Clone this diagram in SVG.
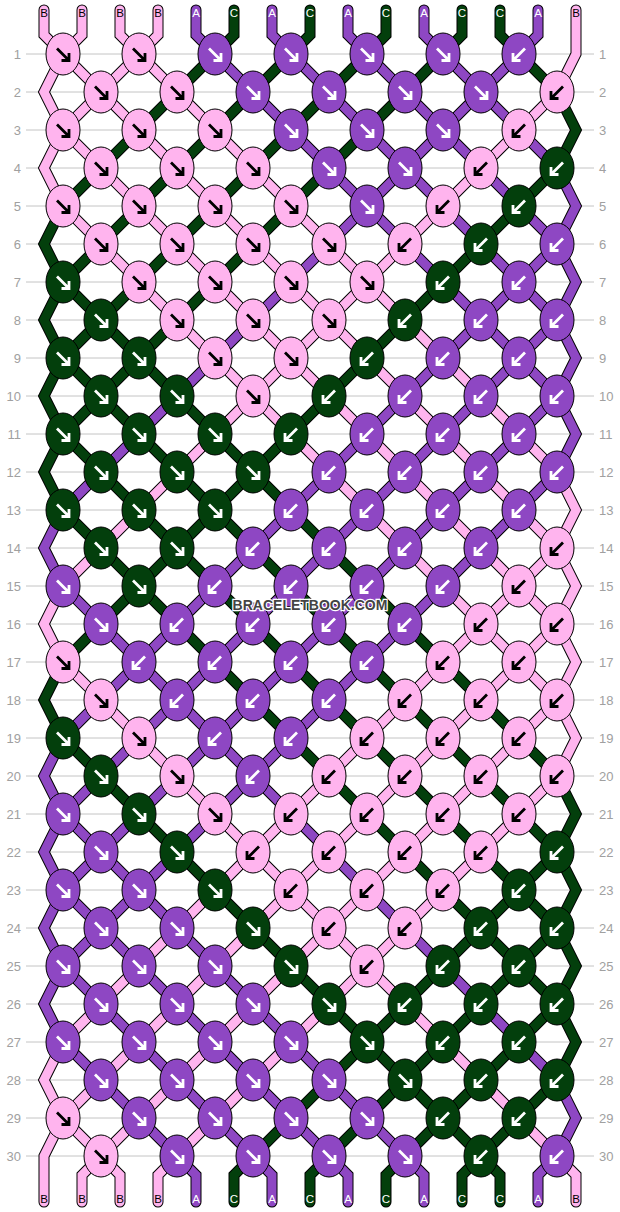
<svg xmlns="http://www.w3.org/2000/svg" xmlns:xlink="http://www.w3.org/1999/xlink" width="620" height="1212" viewBox="0 0 620 1212">
<style>
.grid line{stroke:#c4c4c4;stroke-width:1}
.num{font-family:"Liberation Sans",Arial,sans-serif;font-size:13px;fill:#a0a0a0}
.str use{fill:none;stroke-linejoin:miter;stroke-linecap:round}
.str .o use{stroke:#000;stroke-width:11}
.str .c use{stroke-width:9}
.str .c .A{stroke:#8e47c3}.str .c .B{stroke:#ffb4ee}.str .c .C{stroke:#033f0c}
.lbl{font-family:"Liberation Sans",Arial,sans-serif;font-size:11.5px;text-anchor:middle}
.lbl .A,.lbl .C{fill:#fff}.lbl .B{fill:#000}
.k ellipse{stroke:#000;stroke-width:1}
.k .A ellipse{fill:#8e47c3}.k .B ellipse{fill:#ffb4ee}.k .C ellipse{fill:#033f0c}
.k use{fill:none;stroke-width:2.8;stroke-linejoin:miter}
.k .A use,.k .C use{stroke:#fff}.k .B use{stroke:#000}
.wm{font-family:"Liberation Sans",Arial,sans-serif;font-size:14px;font-weight:bold;fill:#444;stroke:#fff;stroke-width:2.5;paint-order:stroke;text-anchor:middle}
</style>
<defs>
<path id="se" d="M-6,-5.5 L4.5,5 M6,-1 V6.5 H-1.5"/>
<path id="sw" d="M6,-5.5 L-4.5,5 M-6,-1 V6.5 H1.5"/>
<path id="p1" d="M44,10 L44,35 L63,54 L557,548 L576,586 L557,624 L63,1118 L44,1156 L44,1175 L44,1202"/>
<path id="p2" d="M82,10 L82,35 L63,54 L44,92 L63,130 L557,624 L576,662 L557,700 L101,1156 L82,1175 L82,1202"/>
<path id="p3" d="M120,10 L120,35 L139,54 L557,472 L576,510 L557,548 L63,1042 L44,1080 L63,1118 L101,1156 L120,1175 L120,1202"/>
<path id="p4" d="M158,10 L158,35 L139,54 L63,130 L44,168 L63,206 L557,700 L576,738 L557,776 L177,1156 L158,1175 L158,1202"/>
<path id="p5" d="M196,10 L196,35 L215,54 L557,396 L576,434 L557,472 L63,966 L44,1004 L63,1042 L177,1156 L196,1175 L196,1202"/>
<path id="p6" d="M234,10 L234,35 L215,54 L63,206 L44,244 L63,282 L557,776 L576,814 L557,852 L253,1156 L234,1175 L234,1202"/>
<path id="p7" d="M272,10 L272,35 L291,54 L557,320 L576,358 L557,396 L63,890 L44,928 L63,966 L253,1156 L272,1175 L272,1202"/>
<path id="p8" d="M310,10 L310,35 L291,54 L63,282 L44,320 L63,358 L557,852 L576,890 L557,928 L329,1156 L310,1175 L310,1202"/>
<path id="p9" d="M348,10 L348,35 L367,54 L557,244 L576,282 L557,320 L63,814 L44,852 L63,890 L329,1156 L348,1175 L348,1202"/>
<path id="p10" d="M386,10 L386,35 L367,54 L63,358 L44,396 L63,434 L557,928 L576,966 L557,1004 L405,1156 L386,1175 L386,1202"/>
<path id="p11" d="M424,10 L424,35 L443,54 L557,168 L576,206 L557,244 L63,738 L44,776 L63,814 L405,1156 L424,1175 L424,1202"/>
<path id="p12" d="M462,10 L462,35 L443,54 L63,434 L44,472 L63,510 L557,1004 L576,1042 L557,1080 L481,1156 L462,1175 L462,1202"/>
<path id="p13" d="M500,10 L500,35 L519,54 L557,92 L576,130 L557,168 L63,662 L44,700 L63,738 L481,1156 L500,1175 L500,1202"/>
<path id="p14" d="M538,10 L538,35 L519,54 L63,510 L44,548 L63,586 L557,1080 L576,1118 L557,1156 L538,1175 L538,1202"/>
<path id="p15" d="M576,10 L576,54 L557,92 L63,586 L44,624 L63,662 L557,1156 L576,1175 L576,1202"/>
</defs>
<rect width="620" height="1212" fill="#fff"/>
<g class="grid">
<line x1="26" y1="54" x2="594" y2="54"/><line x1="26" y1="92" x2="594" y2="92"/><line x1="26" y1="130" x2="594" y2="130"/><line x1="26" y1="168" x2="594" y2="168"/><line x1="26" y1="206" x2="594" y2="206"/><line x1="26" y1="244" x2="594" y2="244"/><line x1="26" y1="282" x2="594" y2="282"/><line x1="26" y1="320" x2="594" y2="320"/><line x1="26" y1="358" x2="594" y2="358"/><line x1="26" y1="396" x2="594" y2="396"/><line x1="26" y1="434" x2="594" y2="434"/><line x1="26" y1="472" x2="594" y2="472"/><line x1="26" y1="510" x2="594" y2="510"/><line x1="26" y1="548" x2="594" y2="548"/><line x1="26" y1="586" x2="594" y2="586"/><line x1="26" y1="624" x2="594" y2="624"/><line x1="26" y1="662" x2="594" y2="662"/><line x1="26" y1="700" x2="594" y2="700"/><line x1="26" y1="738" x2="594" y2="738"/><line x1="26" y1="776" x2="594" y2="776"/><line x1="26" y1="814" x2="594" y2="814"/><line x1="26" y1="852" x2="594" y2="852"/><line x1="26" y1="890" x2="594" y2="890"/><line x1="26" y1="928" x2="594" y2="928"/><line x1="26" y1="966" x2="594" y2="966"/><line x1="26" y1="1004" x2="594" y2="1004"/><line x1="26" y1="1042" x2="594" y2="1042"/><line x1="26" y1="1080" x2="594" y2="1080"/><line x1="26" y1="1118" x2="594" y2="1118"/><line x1="26" y1="1156" x2="594" y2="1156"/>
</g>
<g class="num" text-anchor="end">
<text x="21" y="59">1</text><text x="21" y="97">2</text><text x="21" y="135">3</text><text x="21" y="173">4</text><text x="21" y="211">5</text><text x="21" y="249">6</text><text x="21" y="287">7</text><text x="21" y="325">8</text><text x="21" y="363">9</text><text x="21" y="401">10</text><text x="21" y="439">11</text><text x="21" y="477">12</text><text x="21" y="515">13</text><text x="21" y="553">14</text><text x="21" y="591">15</text><text x="21" y="629">16</text><text x="21" y="667">17</text><text x="21" y="705">18</text><text x="21" y="743">19</text><text x="21" y="781">20</text><text x="21" y="819">21</text><text x="21" y="857">22</text><text x="21" y="895">23</text><text x="21" y="933">24</text><text x="21" y="971">25</text><text x="21" y="1009">26</text><text x="21" y="1047">27</text><text x="21" y="1085">28</text><text x="21" y="1123">29</text><text x="21" y="1161">30</text>
</g>
<g class="num" text-anchor="start">
<text x="599" y="59">1</text><text x="599" y="97">2</text><text x="599" y="135">3</text><text x="599" y="173">4</text><text x="599" y="211">5</text><text x="599" y="249">6</text><text x="599" y="287">7</text><text x="599" y="325">8</text><text x="599" y="363">9</text><text x="599" y="401">10</text><text x="599" y="439">11</text><text x="599" y="477">12</text><text x="599" y="515">13</text><text x="599" y="553">14</text><text x="599" y="591">15</text><text x="599" y="629">16</text><text x="599" y="667">17</text><text x="599" y="705">18</text><text x="599" y="743">19</text><text x="599" y="781">20</text><text x="599" y="819">21</text><text x="599" y="857">22</text><text x="599" y="895">23</text><text x="599" y="933">24</text><text x="599" y="971">25</text><text x="599" y="1009">26</text><text x="599" y="1047">27</text><text x="599" y="1085">28</text><text x="599" y="1123">29</text><text x="599" y="1161">30</text>
</g>
<g id="connectors" class="str">
<g class="o">
<use href="#p1"/><use href="#p2"/><use href="#p3"/><use href="#p4"/><use href="#p5"/><use href="#p6"/><use href="#p7"/><use href="#p8"/><use href="#p9"/><use href="#p10"/><use href="#p11"/><use href="#p12"/><use href="#p13"/><use href="#p14"/><use href="#p15"/>
</g>
<g class="c">
<use href="#p1" class="B"/><use href="#p2" class="B"/><use href="#p3" class="B"/><use href="#p4" class="B"/><use href="#p5" class="A"/><use href="#p6" class="C"/><use href="#p7" class="A"/><use href="#p8" class="C"/><use href="#p9" class="A"/><use href="#p10" class="C"/><use href="#p11" class="A"/><use href="#p12" class="C"/><use href="#p13" class="C"/><use href="#p14" class="A"/><use href="#p15" class="B"/>
</g>
</g>
<g class="lbl">
<text x="44" y="17" class="B">B</text><text x="82" y="17" class="B">B</text><text x="120" y="17" class="B">B</text><text x="158" y="17" class="B">B</text><text x="196" y="17" class="A">A</text><text x="234" y="17" class="C">C</text><text x="272" y="17" class="A">A</text><text x="310" y="17" class="C">C</text><text x="348" y="17" class="A">A</text><text x="386" y="17" class="C">C</text><text x="424" y="17" class="A">A</text><text x="462" y="17" class="C">C</text><text x="500" y="17" class="C">C</text><text x="538" y="17" class="A">A</text><text x="576" y="17" class="B">B</text>
<text x="44" y="1203" class="B">B</text><text x="82" y="1203" class="B">B</text><text x="120" y="1203" class="B">B</text><text x="158" y="1203" class="B">B</text><text x="196" y="1203" class="A">A</text><text x="234" y="1203" class="C">C</text><text x="272" y="1203" class="A">A</text><text x="310" y="1203" class="C">C</text><text x="348" y="1203" class="A">A</text><text x="386" y="1203" class="C">C</text><text x="424" y="1203" class="A">A</text><text x="462" y="1203" class="C">C</text><text x="500" y="1203" class="C">C</text><text x="538" y="1203" class="A">A</text><text x="576" y="1203" class="B">B</text>
</g>
<g class="k">
<g id="k1-1" class="B" transform="translate(63,54)"><ellipse rx="17" ry="21"/><use href="#se"/></g>
<g id="k1-2" class="B" transform="translate(139,54)"><ellipse rx="17" ry="21"/><use href="#se"/></g>
<g id="k1-3" class="A" transform="translate(215,54)"><ellipse rx="17" ry="21"/><use href="#se"/></g>
<g id="k1-4" class="A" transform="translate(291,54)"><ellipse rx="17" ry="21"/><use href="#se"/></g>
<g id="k1-5" class="A" transform="translate(367,54)"><ellipse rx="17" ry="21"/><use href="#se"/></g>
<g id="k1-6" class="A" transform="translate(443,54)"><ellipse rx="17" ry="21"/><use href="#se"/></g>
<g id="k1-7" class="A" transform="translate(519,54)"><ellipse rx="17" ry="21"/><use href="#sw"/></g>
<g id="k2-1" class="B" transform="translate(101,92)"><ellipse rx="17" ry="21"/><use href="#se"/></g>
<g id="k2-2" class="B" transform="translate(177,92)"><ellipse rx="17" ry="21"/><use href="#se"/></g>
<g id="k2-3" class="A" transform="translate(253,92)"><ellipse rx="17" ry="21"/><use href="#se"/></g>
<g id="k2-4" class="A" transform="translate(329,92)"><ellipse rx="17" ry="21"/><use href="#se"/></g>
<g id="k2-5" class="A" transform="translate(405,92)"><ellipse rx="17" ry="21"/><use href="#se"/></g>
<g id="k2-6" class="A" transform="translate(481,92)"><ellipse rx="17" ry="21"/><use href="#se"/></g>
<g id="k2-7" class="B" transform="translate(557,92)"><ellipse rx="17" ry="21"/><use href="#sw"/></g>
<g id="k3-1" class="B" transform="translate(63,130)"><ellipse rx="17" ry="21"/><use href="#se"/></g>
<g id="k3-2" class="B" transform="translate(139,130)"><ellipse rx="17" ry="21"/><use href="#se"/></g>
<g id="k3-3" class="B" transform="translate(215,130)"><ellipse rx="17" ry="21"/><use href="#se"/></g>
<g id="k3-4" class="A" transform="translate(291,130)"><ellipse rx="17" ry="21"/><use href="#se"/></g>
<g id="k3-5" class="A" transform="translate(367,130)"><ellipse rx="17" ry="21"/><use href="#se"/></g>
<g id="k3-6" class="A" transform="translate(443,130)"><ellipse rx="17" ry="21"/><use href="#se"/></g>
<g id="k3-7" class="B" transform="translate(519,130)"><ellipse rx="17" ry="21"/><use href="#sw"/></g>
<g id="k4-1" class="B" transform="translate(101,168)"><ellipse rx="17" ry="21"/><use href="#se"/></g>
<g id="k4-2" class="B" transform="translate(177,168)"><ellipse rx="17" ry="21"/><use href="#se"/></g>
<g id="k4-3" class="B" transform="translate(253,168)"><ellipse rx="17" ry="21"/><use href="#se"/></g>
<g id="k4-4" class="A" transform="translate(329,168)"><ellipse rx="17" ry="21"/><use href="#se"/></g>
<g id="k4-5" class="A" transform="translate(405,168)"><ellipse rx="17" ry="21"/><use href="#se"/></g>
<g id="k4-6" class="B" transform="translate(481,168)"><ellipse rx="17" ry="21"/><use href="#sw"/></g>
<g id="k4-7" class="C" transform="translate(557,168)"><ellipse rx="17" ry="21"/><use href="#sw"/></g>
<g id="k5-1" class="B" transform="translate(63,206)"><ellipse rx="17" ry="21"/><use href="#se"/></g>
<g id="k5-2" class="B" transform="translate(139,206)"><ellipse rx="17" ry="21"/><use href="#se"/></g>
<g id="k5-3" class="B" transform="translate(215,206)"><ellipse rx="17" ry="21"/><use href="#se"/></g>
<g id="k5-4" class="B" transform="translate(291,206)"><ellipse rx="17" ry="21"/><use href="#se"/></g>
<g id="k5-5" class="A" transform="translate(367,206)"><ellipse rx="17" ry="21"/><use href="#se"/></g>
<g id="k5-6" class="B" transform="translate(443,206)"><ellipse rx="17" ry="21"/><use href="#sw"/></g>
<g id="k5-7" class="C" transform="translate(519,206)"><ellipse rx="17" ry="21"/><use href="#sw"/></g>
<g id="k6-1" class="B" transform="translate(101,244)"><ellipse rx="17" ry="21"/><use href="#se"/></g>
<g id="k6-2" class="B" transform="translate(177,244)"><ellipse rx="17" ry="21"/><use href="#se"/></g>
<g id="k6-3" class="B" transform="translate(253,244)"><ellipse rx="17" ry="21"/><use href="#se"/></g>
<g id="k6-4" class="B" transform="translate(329,244)"><ellipse rx="17" ry="21"/><use href="#se"/></g>
<g id="k6-5" class="B" transform="translate(405,244)"><ellipse rx="17" ry="21"/><use href="#sw"/></g>
<g id="k6-6" class="C" transform="translate(481,244)"><ellipse rx="17" ry="21"/><use href="#sw"/></g>
<g id="k6-7" class="A" transform="translate(557,244)"><ellipse rx="17" ry="21"/><use href="#sw"/></g>
<g id="k7-1" class="C" transform="translate(63,282)"><ellipse rx="17" ry="21"/><use href="#se"/></g>
<g id="k7-2" class="B" transform="translate(139,282)"><ellipse rx="17" ry="21"/><use href="#se"/></g>
<g id="k7-3" class="B" transform="translate(215,282)"><ellipse rx="17" ry="21"/><use href="#se"/></g>
<g id="k7-4" class="B" transform="translate(291,282)"><ellipse rx="17" ry="21"/><use href="#se"/></g>
<g id="k7-5" class="B" transform="translate(367,282)"><ellipse rx="17" ry="21"/><use href="#se"/></g>
<g id="k7-6" class="C" transform="translate(443,282)"><ellipse rx="17" ry="21"/><use href="#sw"/></g>
<g id="k7-7" class="A" transform="translate(519,282)"><ellipse rx="17" ry="21"/><use href="#sw"/></g>
<g id="k8-1" class="C" transform="translate(101,320)"><ellipse rx="17" ry="21"/><use href="#se"/></g>
<g id="k8-2" class="B" transform="translate(177,320)"><ellipse rx="17" ry="21"/><use href="#se"/></g>
<g id="k8-3" class="B" transform="translate(253,320)"><ellipse rx="17" ry="21"/><use href="#se"/></g>
<g id="k8-4" class="B" transform="translate(329,320)"><ellipse rx="17" ry="21"/><use href="#se"/></g>
<g id="k8-5" class="C" transform="translate(405,320)"><ellipse rx="17" ry="21"/><use href="#sw"/></g>
<g id="k8-6" class="A" transform="translate(481,320)"><ellipse rx="17" ry="21"/><use href="#sw"/></g>
<g id="k8-7" class="A" transform="translate(557,320)"><ellipse rx="17" ry="21"/><use href="#sw"/></g>
<g id="k9-1" class="C" transform="translate(63,358)"><ellipse rx="17" ry="21"/><use href="#se"/></g>
<g id="k9-2" class="C" transform="translate(139,358)"><ellipse rx="17" ry="21"/><use href="#se"/></g>
<g id="k9-3" class="B" transform="translate(215,358)"><ellipse rx="17" ry="21"/><use href="#se"/></g>
<g id="k9-4" class="B" transform="translate(291,358)"><ellipse rx="17" ry="21"/><use href="#se"/></g>
<g id="k9-5" class="C" transform="translate(367,358)"><ellipse rx="17" ry="21"/><use href="#sw"/></g>
<g id="k9-6" class="A" transform="translate(443,358)"><ellipse rx="17" ry="21"/><use href="#sw"/></g>
<g id="k9-7" class="A" transform="translate(519,358)"><ellipse rx="17" ry="21"/><use href="#sw"/></g>
<g id="k10-1" class="C" transform="translate(101,396)"><ellipse rx="17" ry="21"/><use href="#se"/></g>
<g id="k10-2" class="C" transform="translate(177,396)"><ellipse rx="17" ry="21"/><use href="#se"/></g>
<g id="k10-3" class="B" transform="translate(253,396)"><ellipse rx="17" ry="21"/><use href="#se"/></g>
<g id="k10-4" class="C" transform="translate(329,396)"><ellipse rx="17" ry="21"/><use href="#sw"/></g>
<g id="k10-5" class="A" transform="translate(405,396)"><ellipse rx="17" ry="21"/><use href="#sw"/></g>
<g id="k10-6" class="A" transform="translate(481,396)"><ellipse rx="17" ry="21"/><use href="#sw"/></g>
<g id="k10-7" class="A" transform="translate(557,396)"><ellipse rx="17" ry="21"/><use href="#sw"/></g>
<g id="k11-1" class="C" transform="translate(63,434)"><ellipse rx="17" ry="21"/><use href="#se"/></g>
<g id="k11-2" class="C" transform="translate(139,434)"><ellipse rx="17" ry="21"/><use href="#se"/></g>
<g id="k11-3" class="C" transform="translate(215,434)"><ellipse rx="17" ry="21"/><use href="#se"/></g>
<g id="k11-4" class="C" transform="translate(291,434)"><ellipse rx="17" ry="21"/><use href="#sw"/></g>
<g id="k11-5" class="A" transform="translate(367,434)"><ellipse rx="17" ry="21"/><use href="#sw"/></g>
<g id="k11-6" class="A" transform="translate(443,434)"><ellipse rx="17" ry="21"/><use href="#sw"/></g>
<g id="k11-7" class="A" transform="translate(519,434)"><ellipse rx="17" ry="21"/><use href="#sw"/></g>
<g id="k12-1" class="C" transform="translate(101,472)"><ellipse rx="17" ry="21"/><use href="#se"/></g>
<g id="k12-2" class="C" transform="translate(177,472)"><ellipse rx="17" ry="21"/><use href="#se"/></g>
<g id="k12-3" class="C" transform="translate(253,472)"><ellipse rx="17" ry="21"/><use href="#se"/></g>
<g id="k12-4" class="A" transform="translate(329,472)"><ellipse rx="17" ry="21"/><use href="#sw"/></g>
<g id="k12-5" class="A" transform="translate(405,472)"><ellipse rx="17" ry="21"/><use href="#sw"/></g>
<g id="k12-6" class="A" transform="translate(481,472)"><ellipse rx="17" ry="21"/><use href="#sw"/></g>
<g id="k12-7" class="A" transform="translate(557,472)"><ellipse rx="17" ry="21"/><use href="#sw"/></g>
<g id="k13-1" class="C" transform="translate(63,510)"><ellipse rx="17" ry="21"/><use href="#se"/></g>
<g id="k13-2" class="C" transform="translate(139,510)"><ellipse rx="17" ry="21"/><use href="#se"/></g>
<g id="k13-3" class="C" transform="translate(215,510)"><ellipse rx="17" ry="21"/><use href="#se"/></g>
<g id="k13-4" class="A" transform="translate(291,510)"><ellipse rx="17" ry="21"/><use href="#sw"/></g>
<g id="k13-5" class="A" transform="translate(367,510)"><ellipse rx="17" ry="21"/><use href="#sw"/></g>
<g id="k13-6" class="A" transform="translate(443,510)"><ellipse rx="17" ry="21"/><use href="#sw"/></g>
<g id="k13-7" class="A" transform="translate(519,510)"><ellipse rx="17" ry="21"/><use href="#sw"/></g>
<g id="k14-1" class="C" transform="translate(101,548)"><ellipse rx="17" ry="21"/><use href="#se"/></g>
<g id="k14-2" class="C" transform="translate(177,548)"><ellipse rx="17" ry="21"/><use href="#se"/></g>
<g id="k14-3" class="A" transform="translate(253,548)"><ellipse rx="17" ry="21"/><use href="#sw"/></g>
<g id="k14-4" class="A" transform="translate(329,548)"><ellipse rx="17" ry="21"/><use href="#sw"/></g>
<g id="k14-5" class="A" transform="translate(405,548)"><ellipse rx="17" ry="21"/><use href="#sw"/></g>
<g id="k14-6" class="A" transform="translate(481,548)"><ellipse rx="17" ry="21"/><use href="#sw"/></g>
<g id="k14-7" class="B" transform="translate(557,548)"><ellipse rx="17" ry="21"/><use href="#sw"/></g>
<g id="k15-1" class="A" transform="translate(63,586)"><ellipse rx="17" ry="21"/><use href="#se"/></g>
<g id="k15-2" class="C" transform="translate(139,586)"><ellipse rx="17" ry="21"/><use href="#se"/></g>
<g id="k15-3" class="A" transform="translate(215,586)"><ellipse rx="17" ry="21"/><use href="#sw"/></g>
<g id="k15-4" class="A" transform="translate(291,586)"><ellipse rx="17" ry="21"/><use href="#sw"/></g>
<g id="k15-5" class="A" transform="translate(367,586)"><ellipse rx="17" ry="21"/><use href="#sw"/></g>
<g id="k15-6" class="A" transform="translate(443,586)"><ellipse rx="17" ry="21"/><use href="#sw"/></g>
<g id="k15-7" class="B" transform="translate(519,586)"><ellipse rx="17" ry="21"/><use href="#sw"/></g>
<g id="k16-1" class="A" transform="translate(101,624)"><ellipse rx="17" ry="21"/><use href="#se"/></g>
<g id="k16-2" class="A" transform="translate(177,624)"><ellipse rx="17" ry="21"/><use href="#sw"/></g>
<g id="k16-3" class="A" transform="translate(253,624)"><ellipse rx="17" ry="21"/><use href="#sw"/></g>
<g id="k16-4" class="A" transform="translate(329,624)"><ellipse rx="17" ry="21"/><use href="#sw"/></g>
<g id="k16-5" class="A" transform="translate(405,624)"><ellipse rx="17" ry="21"/><use href="#sw"/></g>
<g id="k16-6" class="B" transform="translate(481,624)"><ellipse rx="17" ry="21"/><use href="#sw"/></g>
<g id="k16-7" class="B" transform="translate(557,624)"><ellipse rx="17" ry="21"/><use href="#sw"/></g>
<g id="k17-1" class="B" transform="translate(63,662)"><ellipse rx="17" ry="21"/><use href="#se"/></g>
<g id="k17-2" class="A" transform="translate(139,662)"><ellipse rx="17" ry="21"/><use href="#sw"/></g>
<g id="k17-3" class="A" transform="translate(215,662)"><ellipse rx="17" ry="21"/><use href="#sw"/></g>
<g id="k17-4" class="A" transform="translate(291,662)"><ellipse rx="17" ry="21"/><use href="#sw"/></g>
<g id="k17-5" class="A" transform="translate(367,662)"><ellipse rx="17" ry="21"/><use href="#sw"/></g>
<g id="k17-6" class="B" transform="translate(443,662)"><ellipse rx="17" ry="21"/><use href="#sw"/></g>
<g id="k17-7" class="B" transform="translate(519,662)"><ellipse rx="17" ry="21"/><use href="#sw"/></g>
<g id="k18-1" class="B" transform="translate(101,700)"><ellipse rx="17" ry="21"/><use href="#se"/></g>
<g id="k18-2" class="A" transform="translate(177,700)"><ellipse rx="17" ry="21"/><use href="#sw"/></g>
<g id="k18-3" class="A" transform="translate(253,700)"><ellipse rx="17" ry="21"/><use href="#sw"/></g>
<g id="k18-4" class="A" transform="translate(329,700)"><ellipse rx="17" ry="21"/><use href="#sw"/></g>
<g id="k18-5" class="B" transform="translate(405,700)"><ellipse rx="17" ry="21"/><use href="#sw"/></g>
<g id="k18-6" class="B" transform="translate(481,700)"><ellipse rx="17" ry="21"/><use href="#sw"/></g>
<g id="k18-7" class="B" transform="translate(557,700)"><ellipse rx="17" ry="21"/><use href="#sw"/></g>
<g id="k19-1" class="C" transform="translate(63,738)"><ellipse rx="17" ry="21"/><use href="#se"/></g>
<g id="k19-2" class="B" transform="translate(139,738)"><ellipse rx="17" ry="21"/><use href="#se"/></g>
<g id="k19-3" class="A" transform="translate(215,738)"><ellipse rx="17" ry="21"/><use href="#sw"/></g>
<g id="k19-4" class="A" transform="translate(291,738)"><ellipse rx="17" ry="21"/><use href="#sw"/></g>
<g id="k19-5" class="B" transform="translate(367,738)"><ellipse rx="17" ry="21"/><use href="#sw"/></g>
<g id="k19-6" class="B" transform="translate(443,738)"><ellipse rx="17" ry="21"/><use href="#sw"/></g>
<g id="k19-7" class="B" transform="translate(519,738)"><ellipse rx="17" ry="21"/><use href="#sw"/></g>
<g id="k20-1" class="C" transform="translate(101,776)"><ellipse rx="17" ry="21"/><use href="#se"/></g>
<g id="k20-2" class="B" transform="translate(177,776)"><ellipse rx="17" ry="21"/><use href="#se"/></g>
<g id="k20-3" class="A" transform="translate(253,776)"><ellipse rx="17" ry="21"/><use href="#sw"/></g>
<g id="k20-4" class="B" transform="translate(329,776)"><ellipse rx="17" ry="21"/><use href="#sw"/></g>
<g id="k20-5" class="B" transform="translate(405,776)"><ellipse rx="17" ry="21"/><use href="#sw"/></g>
<g id="k20-6" class="B" transform="translate(481,776)"><ellipse rx="17" ry="21"/><use href="#sw"/></g>
<g id="k20-7" class="B" transform="translate(557,776)"><ellipse rx="17" ry="21"/><use href="#sw"/></g>
<g id="k21-1" class="A" transform="translate(63,814)"><ellipse rx="17" ry="21"/><use href="#se"/></g>
<g id="k21-2" class="C" transform="translate(139,814)"><ellipse rx="17" ry="21"/><use href="#se"/></g>
<g id="k21-3" class="B" transform="translate(215,814)"><ellipse rx="17" ry="21"/><use href="#se"/></g>
<g id="k21-4" class="B" transform="translate(291,814)"><ellipse rx="17" ry="21"/><use href="#sw"/></g>
<g id="k21-5" class="B" transform="translate(367,814)"><ellipse rx="17" ry="21"/><use href="#sw"/></g>
<g id="k21-6" class="B" transform="translate(443,814)"><ellipse rx="17" ry="21"/><use href="#sw"/></g>
<g id="k21-7" class="B" transform="translate(519,814)"><ellipse rx="17" ry="21"/><use href="#sw"/></g>
<g id="k22-1" class="A" transform="translate(101,852)"><ellipse rx="17" ry="21"/><use href="#se"/></g>
<g id="k22-2" class="C" transform="translate(177,852)"><ellipse rx="17" ry="21"/><use href="#se"/></g>
<g id="k22-3" class="B" transform="translate(253,852)"><ellipse rx="17" ry="21"/><use href="#sw"/></g>
<g id="k22-4" class="B" transform="translate(329,852)"><ellipse rx="17" ry="21"/><use href="#sw"/></g>
<g id="k22-5" class="B" transform="translate(405,852)"><ellipse rx="17" ry="21"/><use href="#sw"/></g>
<g id="k22-6" class="B" transform="translate(481,852)"><ellipse rx="17" ry="21"/><use href="#sw"/></g>
<g id="k22-7" class="C" transform="translate(557,852)"><ellipse rx="17" ry="21"/><use href="#sw"/></g>
<g id="k23-1" class="A" transform="translate(63,890)"><ellipse rx="17" ry="21"/><use href="#se"/></g>
<g id="k23-2" class="A" transform="translate(139,890)"><ellipse rx="17" ry="21"/><use href="#se"/></g>
<g id="k23-3" class="C" transform="translate(215,890)"><ellipse rx="17" ry="21"/><use href="#se"/></g>
<g id="k23-4" class="B" transform="translate(291,890)"><ellipse rx="17" ry="21"/><use href="#sw"/></g>
<g id="k23-5" class="B" transform="translate(367,890)"><ellipse rx="17" ry="21"/><use href="#sw"/></g>
<g id="k23-6" class="B" transform="translate(443,890)"><ellipse rx="17" ry="21"/><use href="#sw"/></g>
<g id="k23-7" class="C" transform="translate(519,890)"><ellipse rx="17" ry="21"/><use href="#sw"/></g>
<g id="k24-1" class="A" transform="translate(101,928)"><ellipse rx="17" ry="21"/><use href="#se"/></g>
<g id="k24-2" class="A" transform="translate(177,928)"><ellipse rx="17" ry="21"/><use href="#se"/></g>
<g id="k24-3" class="C" transform="translate(253,928)"><ellipse rx="17" ry="21"/><use href="#se"/></g>
<g id="k24-4" class="B" transform="translate(329,928)"><ellipse rx="17" ry="21"/><use href="#sw"/></g>
<g id="k24-5" class="B" transform="translate(405,928)"><ellipse rx="17" ry="21"/><use href="#sw"/></g>
<g id="k24-6" class="C" transform="translate(481,928)"><ellipse rx="17" ry="21"/><use href="#sw"/></g>
<g id="k24-7" class="C" transform="translate(557,928)"><ellipse rx="17" ry="21"/><use href="#sw"/></g>
<g id="k25-1" class="A" transform="translate(63,966)"><ellipse rx="17" ry="21"/><use href="#se"/></g>
<g id="k25-2" class="A" transform="translate(139,966)"><ellipse rx="17" ry="21"/><use href="#se"/></g>
<g id="k25-3" class="A" transform="translate(215,966)"><ellipse rx="17" ry="21"/><use href="#se"/></g>
<g id="k25-4" class="C" transform="translate(291,966)"><ellipse rx="17" ry="21"/><use href="#se"/></g>
<g id="k25-5" class="B" transform="translate(367,966)"><ellipse rx="17" ry="21"/><use href="#sw"/></g>
<g id="k25-6" class="C" transform="translate(443,966)"><ellipse rx="17" ry="21"/><use href="#sw"/></g>
<g id="k25-7" class="C" transform="translate(519,966)"><ellipse rx="17" ry="21"/><use href="#sw"/></g>
<g id="k26-1" class="A" transform="translate(101,1004)"><ellipse rx="17" ry="21"/><use href="#se"/></g>
<g id="k26-2" class="A" transform="translate(177,1004)"><ellipse rx="17" ry="21"/><use href="#se"/></g>
<g id="k26-3" class="A" transform="translate(253,1004)"><ellipse rx="17" ry="21"/><use href="#se"/></g>
<g id="k26-4" class="C" transform="translate(329,1004)"><ellipse rx="17" ry="21"/><use href="#se"/></g>
<g id="k26-5" class="C" transform="translate(405,1004)"><ellipse rx="17" ry="21"/><use href="#sw"/></g>
<g id="k26-6" class="C" transform="translate(481,1004)"><ellipse rx="17" ry="21"/><use href="#sw"/></g>
<g id="k26-7" class="C" transform="translate(557,1004)"><ellipse rx="17" ry="21"/><use href="#sw"/></g>
<g id="k27-1" class="A" transform="translate(63,1042)"><ellipse rx="17" ry="21"/><use href="#se"/></g>
<g id="k27-2" class="A" transform="translate(139,1042)"><ellipse rx="17" ry="21"/><use href="#se"/></g>
<g id="k27-3" class="A" transform="translate(215,1042)"><ellipse rx="17" ry="21"/><use href="#se"/></g>
<g id="k27-4" class="A" transform="translate(291,1042)"><ellipse rx="17" ry="21"/><use href="#se"/></g>
<g id="k27-5" class="C" transform="translate(367,1042)"><ellipse rx="17" ry="21"/><use href="#se"/></g>
<g id="k27-6" class="C" transform="translate(443,1042)"><ellipse rx="17" ry="21"/><use href="#sw"/></g>
<g id="k27-7" class="C" transform="translate(519,1042)"><ellipse rx="17" ry="21"/><use href="#sw"/></g>
<g id="k28-1" class="A" transform="translate(101,1080)"><ellipse rx="17" ry="21"/><use href="#se"/></g>
<g id="k28-2" class="A" transform="translate(177,1080)"><ellipse rx="17" ry="21"/><use href="#se"/></g>
<g id="k28-3" class="A" transform="translate(253,1080)"><ellipse rx="17" ry="21"/><use href="#se"/></g>
<g id="k28-4" class="A" transform="translate(329,1080)"><ellipse rx="17" ry="21"/><use href="#se"/></g>
<g id="k28-5" class="C" transform="translate(405,1080)"><ellipse rx="17" ry="21"/><use href="#se"/></g>
<g id="k28-6" class="C" transform="translate(481,1080)"><ellipse rx="17" ry="21"/><use href="#sw"/></g>
<g id="k28-7" class="C" transform="translate(557,1080)"><ellipse rx="17" ry="21"/><use href="#sw"/></g>
<g id="k29-1" class="B" transform="translate(63,1118)"><ellipse rx="17" ry="21"/><use href="#se"/></g>
<g id="k29-2" class="A" transform="translate(139,1118)"><ellipse rx="17" ry="21"/><use href="#se"/></g>
<g id="k29-3" class="A" transform="translate(215,1118)"><ellipse rx="17" ry="21"/><use href="#se"/></g>
<g id="k29-4" class="A" transform="translate(291,1118)"><ellipse rx="17" ry="21"/><use href="#se"/></g>
<g id="k29-5" class="A" transform="translate(367,1118)"><ellipse rx="17" ry="21"/><use href="#se"/></g>
<g id="k29-6" class="C" transform="translate(443,1118)"><ellipse rx="17" ry="21"/><use href="#sw"/></g>
<g id="k29-7" class="C" transform="translate(519,1118)"><ellipse rx="17" ry="21"/><use href="#sw"/></g>
<g id="k30-1" class="B" transform="translate(101,1156)"><ellipse rx="17" ry="21"/><use href="#se"/></g>
<g id="k30-2" class="A" transform="translate(177,1156)"><ellipse rx="17" ry="21"/><use href="#se"/></g>
<g id="k30-3" class="A" transform="translate(253,1156)"><ellipse rx="17" ry="21"/><use href="#se"/></g>
<g id="k30-4" class="A" transform="translate(329,1156)"><ellipse rx="17" ry="21"/><use href="#se"/></g>
<g id="k30-5" class="A" transform="translate(405,1156)"><ellipse rx="17" ry="21"/><use href="#se"/></g>
<g id="k30-6" class="C" transform="translate(481,1156)"><ellipse rx="17" ry="21"/><use href="#sw"/></g>
<g id="k30-7" class="A" transform="translate(557,1156)"><ellipse rx="17" ry="21"/><use href="#sw"/></g>
</g>
<text class="wm" x="310" y="610">BRACELETBOOK.COM</text>
</svg>
